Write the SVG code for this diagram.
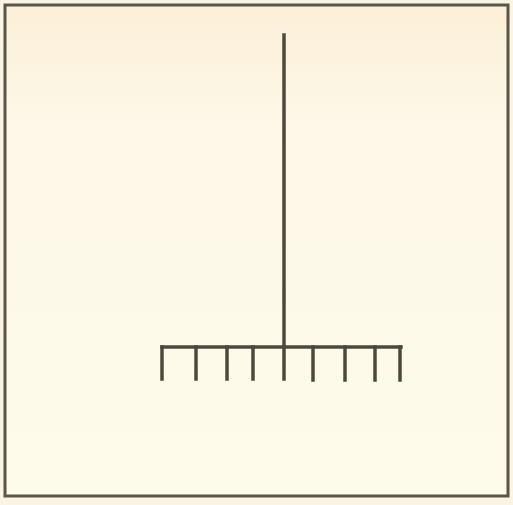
<svg xmlns="http://www.w3.org/2000/svg" width="513" height="505" viewBox="0 0 513 505">
<defs>
<style>
.ln{stroke:#4d483c;stroke-width:3.5;fill:none;stroke-linecap:square}
</style>
<linearGradient id="bg" x1="0" y1="0" x2="0" y2="1">
<stop offset="0" stop-color="#fcefd8"/>
<stop offset="0.25" stop-color="#fdf8e8"/>
<stop offset="1" stop-color="#fdfbea"/>
</linearGradient>
</defs>
<rect x="0" y="0" width="513" height="505" fill="#f9f4e4"/>
<rect x="5" y="5" width="503" height="491" fill="url(#bg)" stroke="#5a5548" stroke-width="3"/>
<g id="rake">
<line class="ln" x1="284" y1="35" x2="284" y2="346"/>
<line class="ln" x1="162" y1="347" x2="401" y2="347"/>
<line class="ln" x1="162" y1="347" x2="162" y2="379"/>
<line class="ln" x1="196" y1="347" x2="196" y2="379"/>
<line class="ln" x1="227" y1="347" x2="227" y2="379"/>
<line class="ln" x1="253" y1="347" x2="253" y2="379"/>
<line class="ln" x1="284" y1="347" x2="284" y2="379"/>
<line class="ln" x1="313" y1="347" x2="313" y2="380"/>
<line class="ln" x1="345" y1="347" x2="345" y2="380"/>
<line class="ln" x1="375" y1="347" x2="375" y2="380"/>
<line class="ln" x1="400" y1="347" x2="400" y2="380"/>
</g>
</svg>
